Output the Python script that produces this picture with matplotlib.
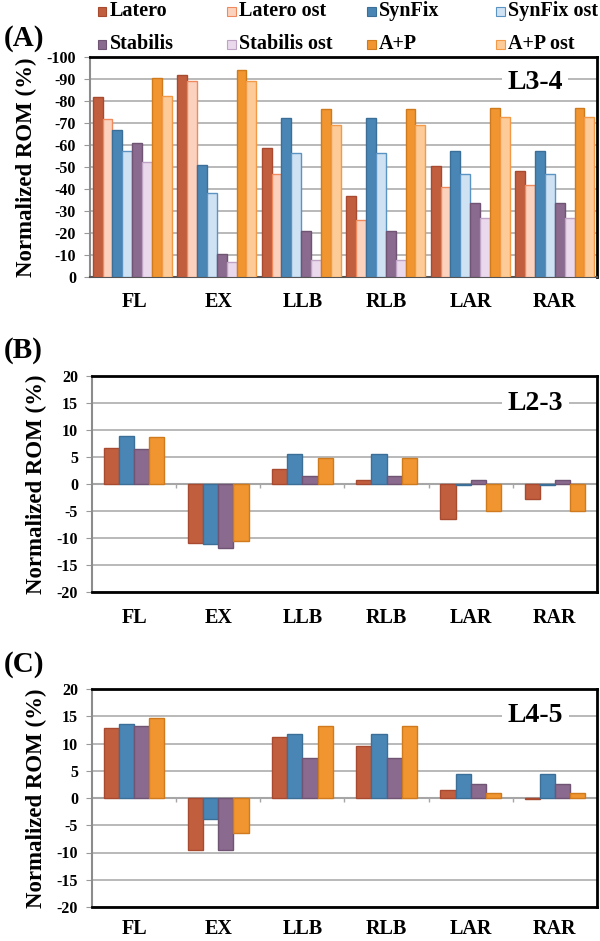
import numpy as np
import matplotlib
matplotlib.use("Agg")
import matplotlib.pyplot as plt
from matplotlib.patches import Rectangle

plt.rcParams['font.family'] = ['Liberation Serif', 'DejaVu Serif']
plt.rcParams['font.weight'] = 'bold'

categories = ['FL', 'EX', 'LLB', 'RLB', 'LAR', 'RAR']

# (A) L3-4, eight series
series_a = ['Latero', 'Latero ost', 'SynFix', 'SynFix ost',
            'Stabilis', 'Stabilis ost', 'A+P', 'A+P ost']
latero_a = [-82, -92, -58.5, -36.7, -50.4, -48]
latero_ost_a = [-72, -89, -47, -25.8, -41, -41.6]
synfix_a = [-66.6, -50.7, -72.1, -72.1, -57.1, -57.1]
synfix_ost_a = [-57.2, -38.1, -56.4, -56.4, -46.9, -46.9]
stabilis_a = [-60.7, -10.6, -20.9, -20.9, -33.7, -33.7]
stabilis_ost_a = [-52.4, -6.7, -7.9, -7.9, -27, -27]
ap_a = [-90.3, -93.9, -76.5, -76.5, -76.8, -76.8]
ap_ost_a = [-82.2, -88.9, -69, -69, -72.7, -72.7]

# (B) L2-3, four series
latero_b = [6.7, -11, 2.8, 0.7, -6.5, -2.7]
synfix_b = [8.8, -11.1, 5.6, 5.6, -0.25, -0.25]
stabilis_b = [6.4, -11.8, 1.4, 1.4, 0.7, 0.7]
ap_b = [8.7, -10.5, 4.9, 4.9, -5, -5]

# (C) L4-5, four series
latero_c = [12.9, -9.5, 11.2, 9.6, 1.5, -0.2]
synfix_c = [13.6, -3.8, 11.8, 11.8, 4.4, 4.4]
stabilis_c = [13.2, -9.5, 7.4, 7.4, 2.6, 2.6]
ap_c = [14.6, -6.5, 13.2, 13.2, 1.0, 1.0]

# face / edge colours
colors = {
    'Latero': ('#c15e3e', '#a84a30'),
    'Latero ost': ('#fbd2bd', '#ee8a5e'),
    'SynFix': ('#4a86b5', '#3b6f98'),
    'SynFix ost': ('#cfe2f3', '#5b93c3'),
    'Stabilis': ('#8a6a8e', '#6f5474'),
    'Stabilis ost': ('#ead9ec', '#bfa3c5'),
    'A+P': ('#f0952f', '#cf7a1d'),
    'A+P ost': ('#fdcb97', '#f29a48'),
}

W, H = 600, 941
fig = plt.figure(figsize=(6, 9.41), dpi=100)


def make_axes(left, top, right, bottom):
    return fig.add_axes([left / W, 1 - bottom / H, (right - left) / W, (bottom - top) / H])


def style_axes(ax, ticks, label, label_pos, label_y):
    ax.set_xlim(-0.5, len(categories) - 0.5)
    ax.set_yticks(ticks)
    ax.set_yticklabels([str(t) for t in ticks], fontsize=11.5, fontweight='bold')
    ax.yaxis.grid(True, color='#a6a6a6', linewidth=1.1)
    ax.set_axisbelow(True)
    ax.set_xticks(range(len(categories)))
    ax.set_xticklabels([])
    ax.tick_params(axis='x', length=0)
    ax.tick_params(axis='y', length=4, color='#999999', pad=6)
    for side in ['top', 'right']:
        ax.spines[side].set_linewidth(2)
        ax.spines[side].set_color('black')
    ax.spines['left'].set_color('#8c8c8c')
    ax.spines['left'].set_linewidth(1.5)
    ax.spines['bottom'].set_linewidth(2)
    ax.spines['bottom'].set_color('black')
    ax.text(label_pos[0], label_pos[1], label, transform=ax.transAxes, fontsize=20,
            fontweight='bold', ha='center', va='center',
            bbox=dict(facecolor='white', edgecolor='none', pad=4))
    for i, c in enumerate(categories):
        fig.text((92 + (i + 0.5) * (597 - 92) / 6) / W, 1 - label_y / H, c,
                 fontsize=14.5, fontweight='bold', ha='center', va='center')
    ax.set_ylabel('Normalized ROM (%)', fontsize=16.5, fontweight='bold', labelpad=7)


x = np.arange(len(categories))

# ---- panel A ----
axA = make_axes(90, 57, 597, 277)
data_a = [latero_a, latero_ost_a, synfix_a, synfix_ost_a,
          stabilis_a, stabilis_ost_a, ap_a, ap_ost_a]
bw = 0.117
for k, (name, vals) in enumerate(zip(series_a, data_a)):
    fc, ec = colors[name]
    axA.bar(x + (k - 3.5) * bw, vals, bw, color=fc, edgecolor=ec, linewidth=1, zorder=3)
axA.set_ylim(0, -100)
style_axes(axA, list(range(-100, 1, 10)), 'L3-4', (0.878, 0.886), 302)
axA.spines['bottom'].set_color('#555555')
axA.spines['bottom'].set_linewidth(1.5)

# ---- panels B and C ----
series_bc = ['Latero', 'SynFix', 'Stabilis', 'A+P']
bw2 = 0.18
for (top, bottom, lab_y, label, lpos, data) in [
        (376, 592, 618, 'L2-3', (0.878, 0.875), [latero_b, synfix_b, stabilis_b, ap_b]),
        (689, 907, 929, 'L4-5', (0.878, 0.88), [latero_c, synfix_c, stabilis_c, ap_c])]:
    ax = make_axes(92, top, 597, bottom)
    for k, (name, vals) in enumerate(zip(series_bc, data)):
        fc, ec = colors[name]
        ax.bar(x + (k - 1.5) * bw2, vals, bw2, color=fc, edgecolor=ec, linewidth=1, zorder=3)
    ax.set_ylim(-20, 20)
    style_axes(ax, list(range(-20, 21, 5)), label, lpos, lab_y)
    ax.axhline(0, color='#a6a6a6', linewidth=1.5, zorder=2)
    ax.vlines(np.arange(0.5, len(categories) - 0.5), 0, -0.8, color='#a6a6a6', linewidth=1, zorder=2)

# panel letters
fig.text(4 / W, 1 - 38 / H, '(A)', fontsize=21, fontweight='bold', va='center')
fig.text(4 / W, 1 - 351 / H, '(B)', fontsize=21, fontweight='bold', va='center')
fig.text(4 / W, 1 - 664 / H, '(C)', fontsize=21, fontweight='bold', va='center')

# legend, two rows of four
leg_x = [102, 231, 371, 500]
leg_y = [11, 44]
for idx, name in enumerate(series_a):
    r, col = divmod(idx, 4)
    fc, ec = colors[name]
    mx, my = leg_x[col], leg_y[r]
    fig.patches.append(Rectangle(((mx - 4.5) / W, 1 - (my + 4.5) / H), 9 / W, 9 / H,
                                 transform=fig.transFigure, facecolor=fc, edgecolor=ec,
                                 linewidth=0.8))
    fig.text((mx + 8) / W, 1 - my / H, name, fontsize=14.5, fontweight='bold',
             ha='left', va='center')

fig.savefig('out.png', dpi=100, facecolor='white')
